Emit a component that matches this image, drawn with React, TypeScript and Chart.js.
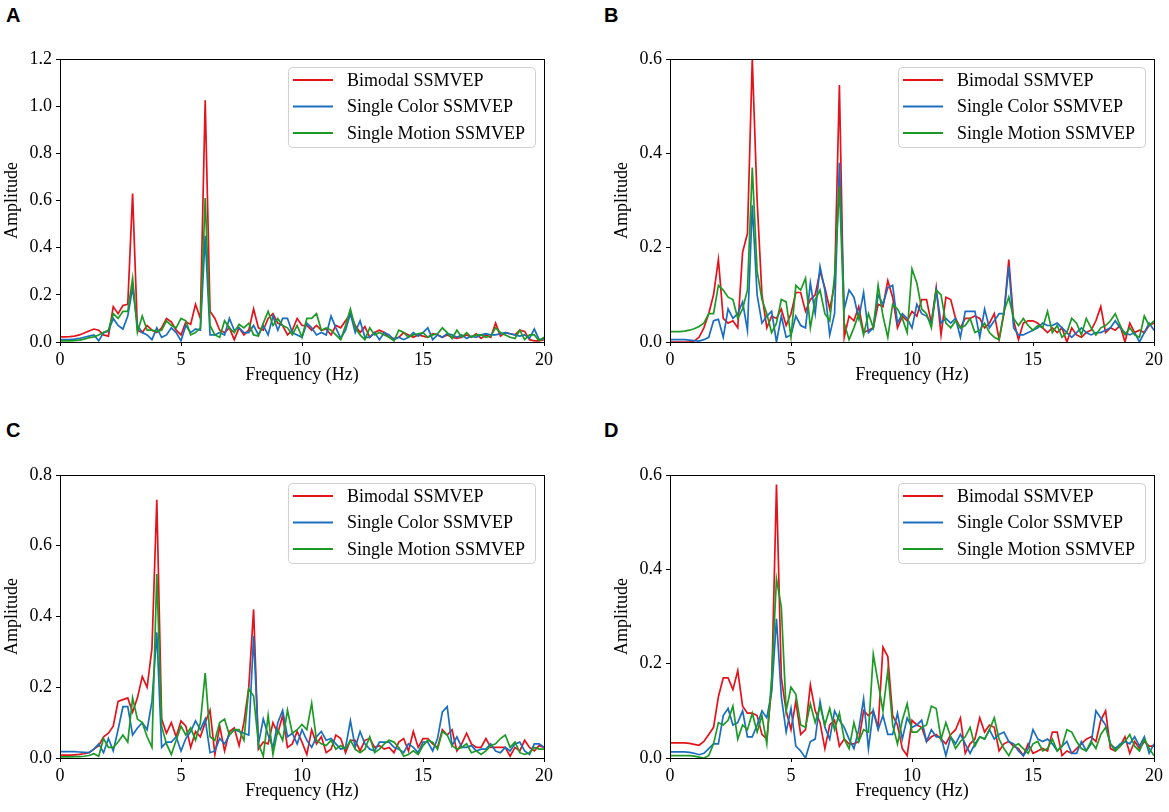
import React, { useEffect, useRef } from 'react';
import { Chart, registerables } from 'chart.js';

Chart.register(...registerables);

// ---------- data ----------
const FREQ = [
  0, 0.2, 0.4, 0.6, 0.8, 1, 1.2, 1.4, 1.6, 1.8,
  2, 2.2, 2.4, 2.6, 2.8, 3, 3.2, 3.4, 3.6, 3.8,
  4, 4.2, 4.4, 4.6, 4.8, 5, 5.2, 5.4, 5.6, 5.8,
  6, 6.2, 6.4, 6.6, 6.8, 7, 7.2, 7.4, 7.6, 7.8,
  8, 8.2, 8.4, 8.6, 8.8, 9, 9.2, 9.4, 9.6, 9.8,
  10, 10.2, 10.4, 10.6, 10.8, 11, 11.2, 11.4, 11.6, 11.8,
  12, 12.2, 12.4, 12.6, 12.8, 13, 13.2, 13.4, 13.6, 13.8,
  14, 14.2, 14.4, 14.6, 14.8, 15, 15.2, 15.4, 15.6, 15.8,
  16, 16.2, 16.4, 16.6, 16.8, 17, 17.2, 17.4, 17.6, 17.8,
  18, 18.2, 18.4, 18.6, 18.8, 19, 19.2, 19.4, 19.6, 19.8,
  20,
];

const SERIES_LABELS = ['Bimodal SSMVEP', 'Single Color SSMVEP', 'Single Motion SSMVEP'];
const PANEL_LETTERS = ['A', 'B', 'C', 'D'];
const X_TICKS = [0, 5, 10, 15, 20];
const X_TITLE = 'Frequency (Hz)';
const Y_TITLE = 'Amplitude';

// Panel A
const A_BIMODAL = [
  0.022, 0.022, 0.023, 0.025, 0.03, 0.038, 0.047, 0.055, 0.05, 0.03,
  0.025, 0.15, 0.12, 0.155, 0.16, 0.63, 0.05, 0.04, 0.07, 0.05,
  0.04, 0.06, 0.1, 0.085, 0.05, 0.03, 0.085, 0.075, 0.16, 0.1,
  1.025, 0.13, 0.1, 0.05, 0.04, 0.06, 0.01, 0.06, 0.03, 0.05,
  0.14, 0.06, 0.05, 0.1, 0.12, 0.08, 0.07, 0.03, 0.05, 0.1,
  0.07, 0.07, 0.05, 0.07, 0.05, 0.055, 0.03, 0.07, 0.06, 0.09,
  0.12, 0.07, 0.04, 0.065, 0.02, 0.04, 0.05, 0.04, 0.02, 0.015,
  0.02, 0.04, 0.03, 0.02, 0.03, 0.025, 0.02, 0.035, 0.03, 0.02,
  0.03, 0.02, 0.015, 0.02, 0.03, 0.02, 0.035, 0.015, 0.03, 0.02,
  0.08, 0.025, 0.04, 0.035, 0.03, 0.05, 0.045, 0.01, 0.005, 0.005,
  0.01,
];
const A_COLOR = [
  0.01, 0.01, 0.01, 0.012, 0.015, 0.02, 0.025, 0.03, 0.005, 0.04,
  0.045, 0.1, 0.07, 0.055, 0.11, 0.23, 0.07, 0.04, 0.03, 0.01,
  0.06, 0.02, 0.03, 0.06, 0.04, 0.005, 0.07, 0.04, 0.055, 0.05,
  0.45, 0.03, 0.03, 0.04, 0.03, 0.1, 0.05, 0.06, 0.04, 0.04,
  0.07, 0.03, 0.07, 0.03, 0.11, 0.05, 0.1, 0.1, 0.04, 0.03,
  0.02, 0.08, 0.06, 0.03, 0.04, 0.03, 0.11, 0.06, 0.015, 0.05,
  0.12, 0.04, 0.09, 0.02, 0.02, 0.04, 0.01, 0.04, 0.03, 0.01,
  0.02, 0.01, 0.02, 0.04, 0.025, 0.04, 0.06, 0.01, 0.03, 0.02,
  0.035, 0.03, 0.02, 0.03, 0.015, 0.025, 0.02, 0.03, 0.035, 0.03,
  0.03, 0.035, 0.04, 0.035, 0.03, 0.025, 0.03, 0.015, 0.055, 0.01,
  0.015,
];
const A_MOTION = [
  0.005, 0.005, 0.005, 0.006, 0.008, 0.012, 0.018, 0.022, 0.03, 0.04,
  0.05, 0.12, 0.1, 0.13, 0.13, 0.27, 0.04, 0.11, 0.05, 0.05,
  0.045, 0.05, 0.09, 0.07, 0.06, 0.1, 0.09, 0.03, 0.04, 0.06,
  0.61, 0.07, 0.03, 0.02, 0.09, 0.06, 0.04, 0.075, 0.06, 0.08,
  0.03, 0.025, 0.08, 0.13, 0.07, 0.1, 0.07, 0.06, 0.03, 0.07,
  0.02, 0.1, 0.1, 0.12, 0.05, 0.06, 0.05, 0.03, 0.01, 0.07,
  0.14, 0.06, 0.03, 0.01, 0.06, 0.03, 0.04, 0.03, 0.02, 0.005,
  0.05, 0.04, 0.02, 0.03, 0.035, 0.04, 0.02, 0.03, 0.035, 0.06,
  0.04, 0.015, 0.05, 0.02, 0.04, 0.02, 0.03, 0.03, 0.02, 0.025,
  0.06, 0.04, 0.03, 0.02, 0.015, 0.05, 0.01, 0.03, 0.03, 0.005,
  0.02,
];
const A_Y_TICKS = [0, 0.2, 0.4, 0.6, 0.8, 1.0, 1.2];

// Panel B
const B_BIMODAL = [
  0, 0, 0, 0, 0, 0.002, 0.01, 0.03, 0.06, 0.1,
  0.175, 0.05, 0.04, 0.045, 0.03, 0.19, 0.23, 0.6, 0.3, 0.1,
  0.03, 0.055, 0.05, 0.07, 0.035, 0.06, 0.105, 0.105, 0.065, 0.09,
  0.1, 0.15, 0.115, 0.07, 0.12, 0.545, 0.01, 0.055, 0.045, 0.075,
  0.02, 0.025, 0.03, 0.08, 0.075, 0.13, 0.095, 0.03, 0.055, 0.045,
  0.065, 0.055, 0.09, 0.09, 0.04, 0.115, 0.015, 0.095, 0.09, 0.05,
  0.03, 0.05, 0.05, 0.055, 0.05, 0.03, 0.04, 0.06, 0.005, 0.06,
  0.175, 0.045, 0.005, 0.04, 0.045, 0.045, 0.04, 0.03, 0.02, 0.03,
  0.02, 0.03, 0, 0.03, 0.015, 0.01, 0.02, 0.025, 0.045, 0.075,
  0.02, 0.03, 0.025, 0.035, 0, 0.04, 0.02, 0.025, 0.02, 0.035,
  0.04,
];
const B_COLOR = [
  0.005, 0.005, 0.005, 0.005, 0.004, 0.003, 0.002, 0.005, 0.01, 0.045,
  0.048, 0.01, 0.07, 0.05, 0.06, 0.085, 0.025, 0.29, 0.1, 0.04,
  0.055, 0.065, 0, 0.055, 0.01, 0.015, 0.055, 0.035, 0.03, 0.125,
  0.06, 0.16, 0.11, 0.015, 0.06, 0.38, 0.07, 0.11, 0.095, 0.05,
  0.105, 0.02, 0.03, 0.1, 0.08, 0.115, 0.12, 0.04, 0.06, 0.05,
  0.03, 0.08, 0.06, 0.055, 0.04, 0.11, 0.04, 0.05, 0.04, 0.05,
  0.01, 0.065, 0.065, 0.065, 0.01, 0.07, 0.03, 0.045, 0.06, 0.06,
  0.16, 0.03, 0.015, 0.015, 0.02, 0.025, 0.03, 0.04, 0.035, 0.035,
  0.04, 0.03, 0.02, 0.01, 0.02, 0.03, 0.02, 0.015, 0.02, 0.02,
  0.025, 0.03, 0.045, 0.03, 0.02, 0.015, 0.02, 0, 0.02, 0.04,
  0.025,
];
const B_MOTION = [
  0.022, 0.022, 0.022, 0.023, 0.025, 0.028, 0.033, 0.04, 0.06, 0.06,
  0.12, 0.11, 0.095, 0.09, 0.05, 0.07, 0.11, 0.37, 0.15, 0.09,
  0.06, 0.02, 0.04, 0.09, 0.085, 0.01, 0.12, 0.11, 0.135, 0.03,
  0.09, 0.11, 0.06, 0.045, 0.14, 0.33, 0.04, 0.005, 0.03, 0.06,
  0.015, 0.06, 0.03, 0.12, 0.055, 0.01, 0.08, 0.07, 0.05, 0.02,
  0.155, 0.125, 0.07, 0.06, 0.03, 0.11, 0.1, 0.04, 0.03, 0.045,
  0.03, 0.035, 0.05, 0.02, 0.025, 0.04, 0.02, 0.01, 0.005, 0.065,
  0.095, 0.05, 0.035, 0.05, 0.035, 0.025, 0.035, 0.03, 0.065, 0.02,
  0.035, 0.01, 0.02, 0.05, 0.04, 0.015, 0.05, 0.03, 0.015, 0.03,
  0.035, 0.045, 0.06, 0.035, 0.015, 0.03, 0.015, 0.01, 0.055, 0.035,
  0.045,
];
const B_Y_TICKS = [0, 0.2, 0.4, 0.6];

// Panel C
const C_BIMODAL = [
  0.008, 0.008, 0.008, 0.009, 0.01, 0.012, 0.015, 0.025, 0.035, 0.06,
  0.07, 0.09, 0.16, 0.165, 0.17, 0.13, 0.17, 0.23, 0.2, 0.31,
  0.73, 0.11, 0.07, 0.1, 0.06, 0.105, 0.09, 0.03, 0.075, 0.06,
  0.1, 0.135, 0.01, 0.09, 0.02, 0.075, 0.085, 0.035, 0.1, 0.2,
  0.42, 0.025, 0.045, 0.04, 0.1, 0.07, 0.12, 0.03, 0.04, 0.075,
  0.045, 0.01, 0.08, 0.04, 0.06, 0.015, 0.025, 0.065, 0.055, 0.015,
  0.05, 0.05, 0.02, 0.05, 0.055, 0.03, 0.035, 0.025, 0.03, 0.015,
  0.045, 0.055, 0.02, 0.075, 0.03, 0.055, 0.055, 0.04, 0.03, 0.08,
  0.065, 0.08, 0.02, 0.04, 0.07, 0.04, 0.03, 0.03, 0.055, 0.03,
  0.03, 0.03, 0.03, 0.005, 0.03, 0.02, 0.05, 0.03, 0.02, 0.035,
  0.03,
];
const C_COLOR = [
  0.018, 0.018, 0.018, 0.018, 0.017, 0.016, 0.015, 0.025, 0.04, 0.015,
  0.055, 0.02, 0.08, 0.145, 0.145, 0.065, 0.085, 0.1, 0.08, 0.16,
  0.355, 0.03, 0.045, 0.045, 0.06, 0.02, 0.055, 0.075, 0.105, 0.08,
  0.11, 0.015, 0.02, 0.055, 0.04, 0.065, 0.08, 0.075, 0.07, 0.065,
  0.345, 0.04, 0.11, 0.065, 0.03, 0.1, 0.135, 0.06, 0.07, 0.04,
  0.08, 0.05, 0.03, 0.06, 0.075, 0.05, 0.055, 0.04, 0.025, 0.03,
  0.105, 0.03, 0.075, 0.04, 0.025, 0.02, 0.045, 0.045, 0.045, 0.03,
  0.025, 0.015, 0.04, 0.03, 0.015, 0.045, 0.045, 0.02, 0.055, 0.13,
  0.145, 0.035, 0.06, 0.03, 0.03, 0.035, 0.02, 0.025, 0.025, 0.04,
  0.02, 0.015, 0.03, 0.02, 0.04, 0.045, 0.02, 0.01, 0.04, 0.04,
  0.03,
];
const C_MOTION = [
  0.003, 0.003, 0.003, 0.004, 0.004, 0.005, 0.007, 0.012, 0.005, 0.055,
  0.03, 0.03, 0.045, 0.065, 0.045, 0.17, 0.11, 0.1, 0.06, 0.03,
  0.52, 0.09, 0.04, 0.01, 0.05, 0.09, 0.065, 0.085, 0.05, 0.1,
  0.24, 0.06, 0.05, 0.1, 0.11, 0.065, 0.08, 0.08, 0.05, 0.195,
  0.175, 0.04, 0.005, 0.12, 0.01, 0.08, 0.05, 0.135, 0.07, 0.08,
  0.095, 0.08, 0.155, 0.05, 0.04, 0.035, 0.05, 0.025, 0.035, 0.025,
  0.05, 0.025, 0.015, 0.025, 0.06, 0.015, 0.025, 0.04, 0.05, 0.045,
  0.03, 0.005, 0.01, 0.02, 0.01, 0.035, 0.05, 0.045, 0.025, 0.075,
  0.065, 0.035, 0.025, 0.03, 0.04, 0.015, 0.02, 0.01, 0.02, 0.035,
  0.04, 0.055, 0.065, 0.03, 0.045, 0.015, 0.01, 0.015, 0.03, 0.025,
  0.025,
];
const C_Y_TICKS = [0, 0.2, 0.4, 0.6, 0.8];

// Panel D
const D_BIMODAL = [
  0.032, 0.032, 0.032, 0.032, 0.031, 0.029, 0.027, 0.035, 0.05, 0.065,
  0.13, 0.17, 0.17, 0.145, 0.185, 0.11, 0.095, 0.095, 0.09, 0.05,
  0.04, 0.15, 0.58, 0.17, 0.1, 0.06, 0.12, 0.05, 0.06, 0.155,
  0.1, 0.075, 0.02, 0.07, 0.08, 0.025, 0.04, 0.03, 0.03, 0.035,
  0.1, 0.09, 0.1, 0.065, 0.235, 0.215, 0.09, 0.07, 0.02, 0.005,
  0.08, 0.07, 0.065, 0.035, 0.045, 0.05, 0.04, 0.03, 0.05, 0.06,
  0.085, 0.01, 0.03, 0.04, 0.085, 0.055, 0.07, 0.065, 0.015, 0.03,
  0.035, 0.025, 0.02, 0.005, 0.03, 0.01, 0.015, 0.02, 0.015, 0.055,
  0.055, 0.005, 0.015, 0.01, 0.02, 0.03, 0.04, 0.045, 0.035, 0.08,
  0.1, 0.02, 0.015, 0.025, 0.045, 0.01, 0.035, 0.02, 0.035, 0.025,
  0.025,
];
const D_COLOR = [
  0.013, 0.013, 0.013, 0.013, 0.012, 0.01, 0.007, 0.01, 0.02, 0.03,
  0.03, 0.09, 0.105, 0.07, 0.075, 0.1, 0.045, 0.045, 0.07, 0.1,
  0.085, 0.14, 0.295, 0.13, 0.055, 0.105, 0.025, 0.015, 0, 0.035,
  0.04, 0.12, 0.065, 0.04, 0.1, 0.08, 0.065, 0.04, 0.02, 0.06,
  0.125, 0.02, 0.1, 0.06, 0.09, 0.05, 0.05, 0.095, 0.04, 0.085,
  0.065, 0.07, 0.08, 0.035, 0.06, 0.045, 0.045, 0.005, 0.045, 0.03,
  0.05, 0.03, 0.01, 0.03, 0.045, 0.04, 0.06, 0.04, 0.05, 0.055,
  0.035, 0.03, 0.015, 0.005, 0.02, 0.06, 0.04, 0.035, 0.04, 0.03,
  0.015, 0.025, 0.035, 0.01, 0.01, 0.035, 0.015, 0.03, 0.1, 0.085,
  0.07, 0.03, 0.02, 0.03, 0.035, 0.03, 0.045, 0.025, 0.045, 0.01,
  0.03,
];
const D_MOTION = [
  0.005, 0.005, 0.005, 0.005, 0.005, 0.004, 0.002, 0, 0.005, 0.03,
  0.075, 0.07, 0.08, 0.11, 0.04, 0.07, 0.06, 0.095, 0.055, 0.09,
  0.03, 0.17, 0.38, 0.32, 0.1, 0.15, 0.135, 0.07, 0.065, 0.115,
  0.075, 0.11, 0.07, 0.105, 0.06, 0.095, 0.04, 0.02, 0.075, 0.035,
  0.06, 0.055, 0.22, 0.16, 0.1, 0.185, 0.07, 0.03, 0.08, 0.115,
  0.055, 0.055, 0.065, 0.07, 0.11, 0.105, 0.04, 0.075, 0.045, 0.02,
  0.035, 0.045, 0.065, 0.025, 0.045, 0.04, 0.06, 0.085, 0.04, 0.02,
  0.005, 0.025, 0.03, 0.02, 0.01, 0.03, 0.035, 0.015, 0.02, 0.04,
  0.015, 0.025, 0.06, 0.055, 0.035, 0.02, 0.015, 0.035, 0.02, 0.05,
  0.065, 0.03, 0.015, 0.025, 0.035, 0.05, 0.025, 0.015, 0.04, 0.02,
  0.005,
];
const D_Y_TICKS = [0, 0.2, 0.4, 0.6];

// ---------- styles ----------
const LINE_COLORS = ['#e3121b', '#1a6ebf', '#1d9a26'];
const SERIF = '"Liberation Serif", "Times New Roman", serif';
const FONT_SIZE = 18;

// Panel geometry: canvas origin; chart area sits at (60..544, 59..342) inside it
const CANVAS_W = 560;
const CANVAS_H = 390;

const frameLegendPlugin = {
  id: 'frameLegend',
  afterDatasetsDraw(chart: any) {
    const { ctx, chartArea } = chart;
    const { left, top, right, bottom } = chartArea;
    ctx.save();
    // spines
    ctx.strokeStyle = '#000';
    ctx.lineWidth = 1;
    ctx.strokeRect(Math.round(left) + 0.5, Math.round(top) + 0.5, Math.round(right - left), Math.round(bottom - top));

    // legend
    const datasets = chart.data.datasets;
    ctx.font = `${FONT_SIZE}px ${SERIF}`;
    let maxW = 0;
    datasets.forEach((d: any) => {
      maxW = Math.max(maxW, ctx.measureText(d.label).width);
    });
    const rowH = 26.5;
    const boxW = 59 + maxW + 10;
    const boxH = 13 + rowH * (datasets.length - 1) + 14;
    const bx = right - 9 - boxW;
    const by = top + 8;
    ctx.beginPath();
    if ((ctx as any).roundRect) {
      (ctx as any).roundRect(bx + 0.5, by + 0.5, boxW, boxH, 4);
    } else {
      ctx.rect(bx + 0.5, by + 0.5, boxW, boxH);
    }
    ctx.fillStyle = 'rgba(255,255,255,0.8)';
    ctx.fill();
    ctx.strokeStyle = '#d0d0d0';
    ctx.lineWidth = 1;
    ctx.stroke();
    datasets.forEach((d: any, i: number) => {
      const y = by + 13 + i * rowH;
      ctx.beginPath();
      ctx.strokeStyle = d.borderColor;
      ctx.lineWidth = 2;
      ctx.moveTo(bx + 5, y);
      ctx.lineTo(bx + 45, y);
      ctx.stroke();
      ctx.fillStyle = '#000';
      ctx.textAlign = 'left';
      ctx.textBaseline = 'middle';
      ctx.fillText(d.label, bx + 59, y + 1);
    });
    ctx.restore();
  },
};

type PanelProps = {
  series: number[][];
  yTicks: number[];
  left: number;
  top: number;
};

function Panel({ series, yTicks, left, top }: PanelProps) {
  const ref = useRef<HTMLCanvasElement | null>(null);
  useEffect(() => {
    if (!ref.current) return;
    const font = { family: SERIF, size: FONT_SIZE };
    const yMax = yTicks[yTicks.length - 1];
    const chart = new Chart(ref.current, {
      type: 'line',
      data: {
        datasets: series.map((vals, k) => ({
          label: SERIES_LABELS[k],
          data: FREQ.map((f, i) => ({ x: f, y: vals[i] })),
          borderColor: LINE_COLORS[k],
          backgroundColor: LINE_COLORS[k],
          borderWidth: 1.7,
          pointRadius: 0,
          tension: 0,
          fill: false,
          order: series.length - k,
        })),
      },
      options: {
        animation: false,
        responsive: false,
        maintainAspectRatio: false,
        events: [],
        layout: { padding: { top: 59, right: CANVAS_W - 544, left: 0, bottom: 0 } },
        plugins: { legend: { display: false }, tooltip: { enabled: false } },
        scales: {
          x: {
            type: 'linear',
            min: 0,
            max: 20,
            afterBuildTicks: (scale: any) => {
              scale.ticks = X_TICKS.map((v) => ({ value: v }));
            },
            afterFit: (scale: any) => {
              scale.height = CANVAS_H - 342;
            },
            grid: { display: true, drawOnChartArea: false, drawTicks: true, tickLength: 4, tickColor: '#000', tickWidth: 1 },
            border: { display: true, color: '#000', width: 1 },
            ticks: {
              font,
              color: '#000',
              padding: 3,
              maxRotation: 0,
              autoSkip: false,
              callback: (v: any) => String(v),
            },
            title: { display: true, text: X_TITLE, font, color: '#000', padding: { top: 0, bottom: 4 } },
          },
          y: {
            type: 'linear',
            min: 0,
            max: yMax,
            afterBuildTicks: (scale: any) => {
              scale.ticks = yTicks.map((v) => ({ value: v }));
            },
            afterFit: (scale: any) => {
              scale.width = 60;
            },
            grid: { display: true, drawOnChartArea: false, drawTicks: true, tickLength: 4, tickColor: '#000', tickWidth: 1 },
            border: { display: true, color: '#000', width: 1 },
            ticks: {
              font,
              color: '#000',
              padding: 4,
              autoSkip: false,
              callback: (v: any) => Number(v).toFixed(1),
            },
            title: { display: true, text: Y_TITLE, font, color: '#000', padding: { top: 1, bottom: 0 } },
          },
        },
      } as any,
      plugins: [frameLegendPlugin],
    });
    return () => chart.destroy();
  }, [series, yTicks]);

  return (
    <canvas
      ref={ref}
      width={CANVAS_W}
      height={CANVAS_H}
      style={{ position: 'absolute', left, top, width: CANVAS_W, height: CANVAS_H }}
    />
  );
}

const PANELS = [
  { series: [A_BIMODAL, A_COLOR, A_MOTION], yTicks: A_Y_TICKS, left: 0, top: 0, lx: 6, ly: 3 },
  { series: [B_BIMODAL, B_COLOR, B_MOTION], yTicks: B_Y_TICKS, left: 610, top: 0, lx: 604, ly: 3 },
  { series: [C_BIMODAL, C_COLOR, C_MOTION], yTicks: C_Y_TICKS, left: 0, top: 416, lx: 6, ly: 418 },
  { series: [D_BIMODAL, D_COLOR, D_MOTION], yTicks: D_Y_TICKS, left: 610, top: 416, lx: 604, ly: 418 },
];

export default function App() {
  useEffect(() => {
    document.body.style.margin = '0';
    document.body.style.background = '#fff';
  }, []);
  return (
    <div style={{ position: 'relative', width: 1169, height: 812, background: '#fff', overflow: 'hidden' }}>
      {PANELS.map((p, i) => (
        <React.Fragment key={i}>
          <div
            style={{
              position: 'absolute',
              left: p.lx,
              top: p.ly,
              fontFamily: '"Liberation Sans", Arial, sans-serif',
              fontWeight: 'bold',
              fontSize: 20,
              lineHeight: '24px',
              color: '#000',
            }}
          >
            {PANEL_LETTERS[i]}
          </div>
          <Panel series={p.series} yTicks={p.yTicks} left={p.left} top={p.top} />
        </React.Fragment>
      ))}
    </div>
  );
}
